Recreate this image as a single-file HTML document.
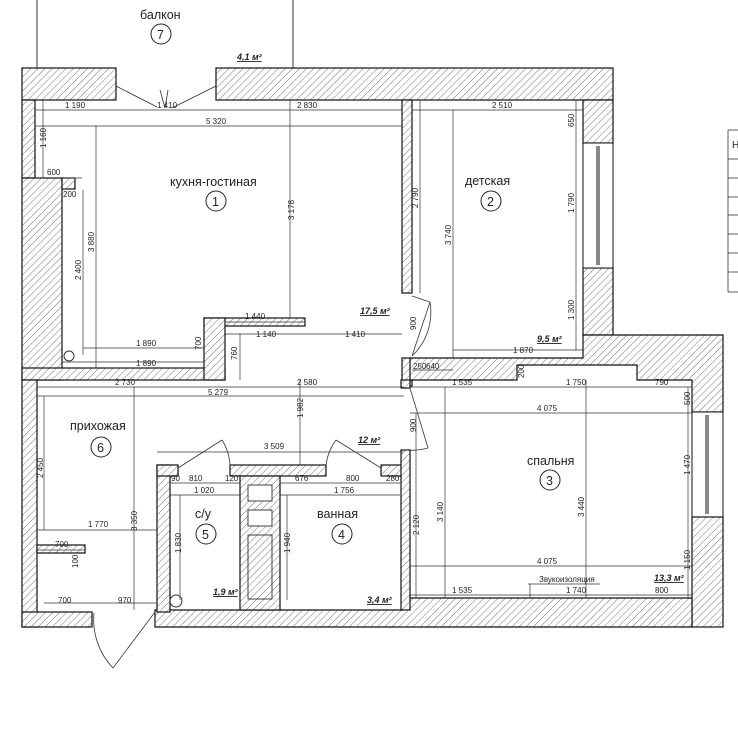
<!DOCTYPE html>
<html><head><meta charset="utf-8"><style>
html,body{margin:0;padding:0;background:#fff;}
svg{display:block;}
text{font-family:"Liberation Sans",sans-serif;fill:#222;}
.d{font-size:8px;}
.r{font-size:12.5px;}
.a{font-size:9px;font-style:italic;font-weight:bold;text-decoration:underline;}
.w{fill:url(#h);stroke:#111;stroke-width:1.2;}
.l{stroke:#333;stroke-width:0.7;fill:none;}
</style></head><body>
<svg width="738" height="733" viewBox="0 0 738 733" xmlns="http://www.w3.org/2000/svg">
<defs>
<pattern id="h" width="5" height="5" patternUnits="userSpaceOnUse" patternTransform="rotate(45)">
<rect width="5" height="5" fill="#fff"/><line x1="0" y1="0" x2="0" y2="5" stroke="#666" stroke-width="0.9"/>
</pattern>
</defs>
<line x1="37" y1="0" x2="37" y2="68" stroke="#555" stroke-width="1.2"/>
<line x1="293" y1="0" x2="293" y2="68" stroke="#555" stroke-width="1.2"/>
<text x="140" y="19" class="r">балкон</text>
<circle cx="161" cy="34" r="10" fill="none" stroke="#222"/><text x="157" y="39" class="r">7</text>
<text x="237" y="60" class="a">4,1 м²</text>

<rect class="w" x="22" y="68" width="94" height="32"/>
<rect class="w" x="216" y="68" width="397" height="32"/>
<rect class="w" x="22" y="100" width="13" height="78"/>
<rect class="w" x="22" y="178" width="40" height="202"/>
<rect class="w" x="62" y="178" width="13" height="11"/>
<rect class="w" x="22" y="368" width="203" height="12"/>
<rect class="w" x="204" y="318" width="101" height="8"/>
<rect class="w" x="204" y="318" width="21" height="62"/>
<rect class="w" x="402" y="100" width="10" height="193"/>
<rect class="w" x="402" y="358" width="10" height="28"/>
<rect class="w" x="583" y="100" width="30" height="43"/>
<rect class="w" x="583" y="268" width="30" height="67"/>
<rect x="583" y="143" width="30" height="125" fill="#fff" stroke="#111"/>
<line x1="598" y1="146" x2="598" y2="265" stroke="#111" stroke-width="3"/>
<line x1="598" y1="146" x2="598" y2="265" stroke="#fff" stroke-width="1"/>
<polygon class="w" points="410,358 583,358 583,335 723,335 723,412 692,412 692,380 637,380 637,365 517,365 517,380 410,380"/>
<rect x="692" y="412" width="31" height="105" fill="#fff" stroke="#111"/>
<line x1="707" y1="415" x2="707" y2="514" stroke="#111" stroke-width="3"/>
<line x1="707" y1="415" x2="707" y2="514" stroke="#fff" stroke-width="1"/>
<rect class="w" x="692" y="517" width="31" height="110"/>
<polygon class="w" points="403,598 692,598 692,627 155,627 155,610 403,610"/>
<rect class="w" x="22" y="380" width="15" height="247"/>
<rect class="w" x="22" y="612" width="70" height="15"/>
<rect class="w" x="37" y="545" width="48" height="8"/>
<rect class="w" x="157" y="465" width="13" height="147"/>
<rect class="w" x="157" y="465" width="21" height="11"/>
<rect class="w" x="230" y="465" width="96" height="11"/>
<rect class="w" x="381" y="465" width="22" height="11"/>
<rect class="w" x="240" y="476" width="40" height="134"/>
<rect x="248" y="485" width="24" height="16" fill="#fff" stroke="#111" stroke-width="0.8"/>
<rect x="248" y="510" width="24" height="16" fill="#fff" stroke="#111" stroke-width="0.8"/>
<rect x="248" y="535" width="24" height="64" fill="none" stroke="#111" stroke-width="0.8"/>
<rect class="w" x="401" y="450" width="9" height="160"/>
<rect class="w" x="401" y="380" width="9" height="8"/>
<circle cx="69" cy="356" r="5" fill="none" stroke="#333"/>
<circle cx="176" cy="601" r="6" fill="none" stroke="#333"/>

<g stroke="#333" stroke-width="0.8" fill="none">
<line x1="116" y1="86" x2="157" y2="107"/><line x1="216" y1="86" x2="172" y2="108"/>
<path d="M160 90 L165 108 L168 90"/>
<line x1="412" y1="296" x2="430" y2="302"/><line x1="430" y1="302" x2="412" y2="356"/>
<path d="M430 302 A60 60 0 0 1 412 356"/>
<line x1="410" y1="388" x2="428" y2="448"/><path d="M428 448 A62 62 0 0 1 405 450"/>
<line x1="178" y1="468" x2="222" y2="440"/><path d="M222 440 A52 52 0 0 1 230 466"/>
<line x1="381" y1="468" x2="336" y2="440"/><path d="M336 440 A52 52 0 0 0 326 466"/>
<line x1="155" y1="612" x2="113" y2="668"/><path d="M113 668 A70 70 0 0 1 94 613"/>
</g>

<g class="l">
<line x1="35" y1="110" x2="402" y2="110"/><line x1="35" y1="126" x2="402" y2="126"/>
<line x1="43" y1="100" x2="43" y2="178"/><line x1="96" y1="126" x2="96" y2="368"/>
<line x1="83" y1="190" x2="83" y2="355"/><line x1="290" y1="100" x2="290" y2="318"/>
<line x1="62" y1="178" x2="82" y2="178"/>
<line x1="83" y1="348" x2="204" y2="348"/><line x1="62" y1="362" x2="204" y2="362"/>
<line x1="225" y1="322" x2="305" y2="322"/><line x1="225" y1="334" x2="402" y2="334"/>
<line x1="240" y1="334" x2="240" y2="380"/>
<line x1="412" y1="110" x2="583" y2="110"/><line x1="420" y1="100" x2="420" y2="293"/>
<line x1="453" y1="110" x2="453" y2="358"/><line x1="576" y1="100" x2="576" y2="350"/>
<line x1="453" y1="350" x2="583" y2="350"/><line x1="412" y1="370" x2="453" y2="370"/>
<line x1="37" y1="387" x2="404" y2="387"/><line x1="37" y1="396" x2="404" y2="396"/>
<line x1="134" y1="387" x2="134" y2="610"/><line x1="300" y1="380" x2="300" y2="465"/>
<line x1="157" y1="452" x2="403" y2="452"/><line x1="44" y1="396" x2="44" y2="530"/>
<line x1="37" y1="530" x2="157" y2="530"/><line x1="37" y1="550" x2="85" y2="550"/>
<line x1="44" y1="603" x2="157" y2="603"/>
<line x1="410" y1="387" x2="692" y2="387"/><line x1="410" y1="413" x2="692" y2="413"/>
<line x1="410" y1="566" x2="692" y2="566"/><line x1="410" y1="595" x2="692" y2="595"/>
<line x1="445" y1="387" x2="445" y2="598"/><line x1="586" y1="380" x2="586" y2="598"/>
<line x1="688" y1="387" x2="688" y2="598"/><line x1="416" y1="413" x2="416" y2="598"/>
<line x1="170" y1="483" x2="240" y2="483"/><line x1="170" y1="495" x2="240" y2="495"/>
<line x1="180" y1="495" x2="180" y2="600"/>
<line x1="280" y1="483" x2="400" y2="483"/><line x1="280" y1="495" x2="400" y2="495"/>
<line x1="287" y1="495" x2="287" y2="600"/>
<line x1="528" y1="584" x2="600" y2="584"/><line x1="530" y1="584" x2="530" y2="598"/>
</g>

<g class="d">
<text x="65" y="108">1 190</text><text x="157" y="108">1 410</text><text x="297" y="108">2 830</text>
<text x="206" y="124">5 320</text><text x="47" y="175">600</text><text x="63" y="197">200</text>
<text x="136" y="346">1 890</text><text x="136" y="366">1 890</text>
<text x="245" y="319">1 440</text><text x="256" y="337">1 140</text><text x="345" y="337">1 410</text>
<text x="492" y="108">2 510</text><text x="513" y="353">1 870</text><text x="413" y="369">250</text><text x="426" y="369">640</text>
<text x="115" y="385">2 730</text><text x="297" y="385">2 580</text><text x="208" y="395">5 279</text>
<text x="264" y="449">3 509</text><text x="88" y="527">1 770</text><text x="55" y="547">700</text>
<text x="58" y="603">700</text><text x="118" y="603">970</text>
<text x="171" y="481">90</text><text x="189" y="481">810</text><text x="225" y="481">120</text>
<text x="194" y="493">1 020</text>
<text x="295" y="481">676</text><text x="346" y="481">800</text><text x="386" y="481">280</text>
<text x="334" y="493">1 756</text>
<text x="452" y="385">1 535</text><text x="566" y="385">1 750</text><text x="655" y="385">790</text>
<text x="537" y="411">4 075</text><text x="537" y="564">4 075</text>
<text x="452" y="593">1 535</text><text x="566" y="593">1 740</text><text x="655" y="593">800</text>
<text x="539" y="582">Звукоизоляция</text>
</g>
<g class="d">
<text transform="translate(46,148) rotate(-90)">1 160</text>
<text transform="translate(94,252) rotate(-90)">3 880</text>
<text transform="translate(81,280) rotate(-90)">2 400</text>
<text transform="translate(294,220) rotate(-90)">3 178</text>
<text transform="translate(418,208) rotate(-90)">2 790</text>
<text transform="translate(451,245) rotate(-90)">3 740</text>
<text transform="translate(574,127) rotate(-90)">650</text>
<text transform="translate(574,213) rotate(-90)">1 790</text>
<text transform="translate(574,320) rotate(-90)">1 300</text>
<text transform="translate(416,330) rotate(-90)">900</text>
<text transform="translate(416,432) rotate(-90)">900</text>
<text transform="translate(201,350) rotate(-90)">700</text>
<text transform="translate(237,360) rotate(-90)">760</text>
<text transform="translate(303,418) rotate(-90)">1 982</text>
<text transform="translate(137,531) rotate(-90)">3 350</text>
<text transform="translate(43,478) rotate(-90)">2 450</text>
<text transform="translate(181,553) rotate(-90)">1 830</text>
<text transform="translate(290,553) rotate(-90)">1 940</text>
<text transform="translate(419,535) rotate(-90)">2 120</text>
<text transform="translate(443,522) rotate(-90)">3 140</text>
<text transform="translate(584,517) rotate(-90)">3 440</text>
<text transform="translate(690,475) rotate(-90)">1 470</text>
<text transform="translate(690,570) rotate(-90)">1 150</text>
<text transform="translate(690,405) rotate(-90)">500</text>
<text transform="translate(524,378) rotate(-90)">200</text>
<text transform="translate(78,568) rotate(-90)">100</text>
</g>

<text x="170" y="186" class="r">кухня-гостиная</text>
<circle cx="216" cy="201" r="10" fill="none" stroke="#222"/><text x="212" y="206" class="r">1</text>
<text x="465" y="185" class="r">детская</text>
<circle cx="491" cy="201" r="10" fill="none" stroke="#222"/><text x="487" y="206" class="r">2</text>
<text x="70" y="430" class="r">прихожая</text>
<circle cx="101" cy="447" r="10" fill="none" stroke="#222"/><text x="97" y="452" class="r">6</text>
<text x="527" y="465" class="r">спальня</text>
<circle cx="550" cy="480" r="10" fill="none" stroke="#222"/><text x="546" y="485" class="r">3</text>
<text x="195" y="518" class="r">с/у</text>
<circle cx="206" cy="534" r="10" fill="none" stroke="#222"/><text x="202" y="539" class="r">5</text>
<text x="317" y="518" class="r">ванная</text>
<circle cx="342" cy="534" r="10" fill="none" stroke="#222"/><text x="338" y="539" class="r">4</text>
<text x="360" y="314" class="a">17,5 м²</text>
<text x="537" y="342" class="a">9,5 м²</text>
<text x="358" y="443" class="a">12 м²</text>
<text x="654" y="581" class="a">13,3 м²</text>
<text x="213" y="595" class="a">1,9 м²</text>
<text x="367" y="603" class="a">3,4 м²</text>

<g stroke="#333" stroke-width="0.8" fill="none">
<line x1="728" y1="130" x2="738" y2="130"/><line x1="728" y1="130" x2="728" y2="292"/>
<line x1="728" y1="292" x2="738" y2="292"/>
<line x1="728" y1="159" x2="738" y2="159"/><line x1="728" y1="178" x2="738" y2="178"/>
<line x1="728" y1="197" x2="738" y2="197"/><line x1="728" y1="215" x2="738" y2="215"/>
<line x1="728" y1="234" x2="738" y2="234"/><line x1="728" y1="253" x2="738" y2="253"/>
<line x1="728" y1="272" x2="738" y2="272"/>
</g>
<text x="732" y="148" style="font-size:10px">Н</text>
</svg>
</body></html>
